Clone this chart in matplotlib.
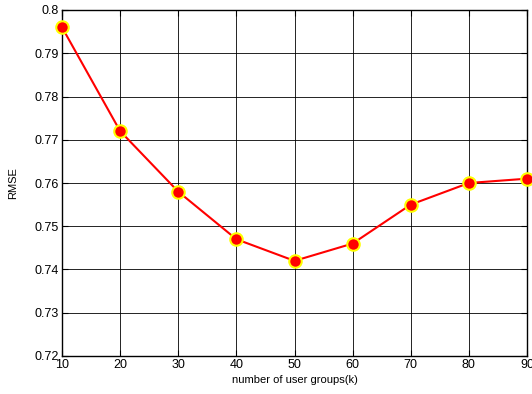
import numpy as np
import matplotlib.pyplot as plt

k = [10, 20, 30, 40, 50, 60, 70, 80, 90]
rmse = [0.796, 0.772, 0.758, 0.747, 0.742, 0.746, 0.755, 0.760, 0.761]

plt.rcParams['font.family'] = ['Liberation Sans', 'DejaVu Sans']

fig = plt.figure(figsize=(5.32, 3.94), dpi=100)
ax = fig.add_axes([62/532, 1-356/394, (527-62)/532, (356-10)/394])

ax.plot(k, rmse, '-', color='red', linewidth=1.5, marker='o', markersize=9,
        markerfacecolor='red', markeredgecolor='yellow', markeredgewidth=1.5, clip_on=False, zorder=3)

ax.set_xlim(10, 90)
ax.set_ylim(0.72, 0.8)
ax.set_xticks(np.arange(10, 91, 10))
ax.set_yticks(np.arange(0.72, 0.801, 0.01))
ax.set_yticklabels(['0.72', '0.73', '0.74', '0.75', '0.76', '0.77', '0.78', '0.79', '0.8'])
ax.grid(True, color='black', linewidth=0.6, linestyle='-')
ax.tick_params(direction='in', labelsize=9, length=4, top=True, right=True, pad=2)
for s in ax.spines.values():
    s.set_linewidth(1.0)

ax.set_xlabel('number of user groups(k)', fontsize=8, labelpad=3)
ax.set_ylabel('RMSE', fontsize=8, labelpad=12)

fig.savefig('out.png', dpi=100)
